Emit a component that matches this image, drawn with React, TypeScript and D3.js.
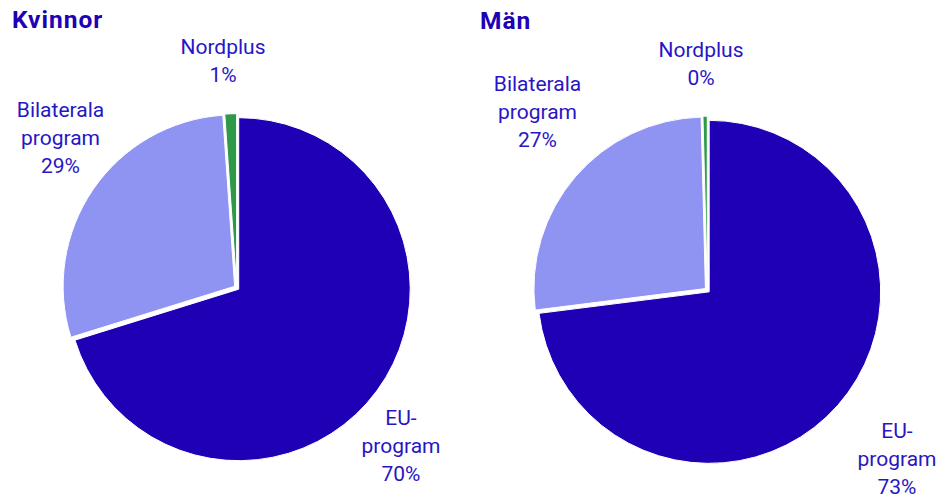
import React from "react";
import * as d3 from "d3";

const categories = ["EU-program", "Bilaterala program", "Nordplus"];
const labelLines = [["EU-", "program"], ["Bilaterala", "program"], ["Nordplus"]];
const groups = ["Kvinnor", "Män"];
const kvinnorValues = [70.2, 28.7, 1.1];
const manValues = [73.0, 26.6, 0.4];

const colors = ["#2000b4", "#8f94f3", "#2e9a47"];
const textColor = "#2816c4";

const W = 944;
const H = 499;
const R = 171.5;
const EXPLODE = 2.5;

const pieLayouts = [
  { cx: 236.7, cy: 287.7, titleX: 12, titleY: 27.5,
    labels: [[164.3, 137.3], [-176.2, -170.7], [-13.7, -233.7]] },
  { cx: 707.3, cy: 290.2, titleX: 480, titleY: 28.5,
    labels: [[189.7, 147.8], [-169.8, -199.2], [-6.3, -233.2]] },
];

const LINE_H = 28;

function Pie({ values, layout, title }: { values: number[]; layout: any; title: string }) {
  const data = categories.map((c, i) => ({ c, v: values[i], i }));
  const pie = d3.pie<any>().value((d) => d.v).sort(null).startAngle(0).endAngle(2 * Math.PI);
  const arcs = pie(data);
  const arc = d3.arc<any>().innerRadius(0).outerRadius(R);
  return (
    <g>
      <text x={layout.titleX} y={layout.titleY} fontFamily="Roboto, sans-serif" fontWeight={700}
        fontSize={24.5} letterSpacing={1} fill="#2000b4">{title}</text>
      <g transform={`translate(${layout.cx},${layout.cy})`}>
        {arcs.map((a, k) => {
          const mid = (a.startAngle + a.endAngle) / 2;
          const ox = Math.sin(mid) * EXPLODE;
          const oy = -Math.cos(mid) * EXPLODE;
          return (
            <path key={k} d={arc(a) as string} transform={`translate(${ox},${oy})`}
              fill={colors[a.data.i]} stroke="#ffffff" strokeWidth={1} strokeLinejoin="round" />
          );
        })}
        {arcs.map((a, k) => {
          const [lx, ly] = layout.labels[a.data.i];
          const lines = [...labelLines[a.data.i], `${Math.round(a.data.v)}%`];
          return (
            <text key={"l" + k} x={lx} y={ly} textAnchor="middle" fontFamily="Roboto, sans-serif"
              fontSize={21} fill={textColor}>
              {lines.map((t, j) => (
                <tspan key={j} x={lx} y={ly + j * LINE_H}>{t}</tspan>
              ))}
            </text>
          );
        })}
      </g>
    </g>
  );
}

export default function App() {
  return (
    <svg width={W} height={H} style={{ position: "absolute", left: 0, top: 0, background: "#fff" }}>
      <Pie values={kvinnorValues} layout={pieLayouts[0]} title={groups[0]} />
      <Pie values={manValues} layout={pieLayouts[1]} title={groups[1]} />
    </svg>
  );
}
